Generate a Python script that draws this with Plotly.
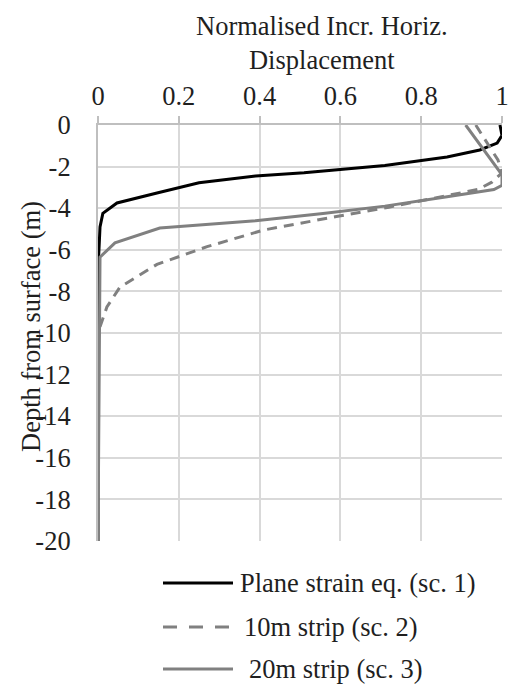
import plotly.graph_objects as go

# ---- data ----
names = ["Plane strain eq. (sc. 1)", "10m strip (sc. 2)", "20m strip (sc. 3)"]

depth_ps = [0, -0.5, -0.87, -1.2, -1.54, -1.78, -1.95, -2.1, -2.3, -2.45, -2.78, -3.27, -3.75, -4.25, -4.9, -6.15, -6.5, -20]
disp_ps = [0.995, 1.0, 0.988, 0.945, 0.864, 0.78, 0.71, 0.62, 0.51, 0.39, 0.25, 0.146, 0.047, 0.012, 0.005, 0.002, 0, 0]

depth_10 = [0, -1.68, -2.3, -2.75, -3.1, -3.4, -3.95, -4.4, -5.05, -5.85, -6.7, -7.8, -8.75, -9.7, -10.4, -20]
disp_10 = [0.935, 0.99, 1.0, 0.975, 0.94, 0.865, 0.72, 0.59, 0.41, 0.27, 0.146, 0.054, 0.022, 0.005, 0, 0]

depth_20 = [0, -2.4, -2.9, -3.1, -3.46, -3.9, -4.25, -4.6, -4.95, -5.67, -6.35, -20]
disp_20 = [0.91, 1.0, 1.0, 0.98, 0.86, 0.71, 0.557, 0.39, 0.153, 0.042, 0.005, 0]

x_ticks = [0, 0.2, 0.4, 0.6, 0.8, 1]
x_ticktext = ["0", "0.2", "0.4", "0.6", "0.8", "1"]
y_ticks = list(range(0, -21, -2))
y_ticktext = ["0", "-2", "-4", "-6", "-8", "-10", "-12", "-14", "-16", "-18", "-20"]

FONT = "Liberation Serif"
FS = 26.5
TXT = "#1f1f1f"
GRAY = "#808080"

colors = ["#000000", GRAY, GRAY]
dashes = ["solid", "10px,7px", "solid"]

fig = go.Figure()
series = [(disp_ps, depth_ps), (disp_10, depth_10), (disp_20, depth_20)]
for (xs, ys), nm, c, d in zip(series, names, colors, dashes):
    fig.add_trace(go.Scatter(x=xs, y=ys, mode="lines", name=nm,
                             line=dict(color=c, width=3, dash=d),
                             showlegend=False, cliponaxis=False))

W, H = 508, 684
L, R, T, B = 98, 6, 125, 143
pw, ph = W - L - R, H - T - B

def px2x(px):
    return (px - L) / pw

def py2y(py):
    return (H - B - py) / ph

fig.update_layout(
    width=W, height=H,
    margin=dict(l=L, r=R, t=T, b=B, autoexpand=False),
    paper_bgcolor="white", plot_bgcolor="white",
    font=dict(family=FONT, size=FS, color=TXT),
    xaxis=dict(side="top", range=[0, 1], tickvals=x_ticks, ticktext=x_ticktext,
               showgrid=True, gridcolor="#d9d9d9", gridwidth=2,
               showline=True, linecolor="#bfbfbf", linewidth=2,
               ticks="outside", ticklen=7, tickcolor="#bfbfbf", tickwidth=2,
               zeroline=False, automargin=False, ticklabeloverflow="allow",
               tickfont=dict(size=FS, family=FONT, color=TXT)),
    yaxis=dict(range=[-20, 0], tickvals=y_ticks, ticktext=y_ticktext,
               showgrid=True, gridcolor="#d9d9d9", gridwidth=2,
               showline=True, linecolor="#bfbfbf", linewidth=2,
               ticks="", ticklabelstandoff=20, automargin=False,
               zeroline=False, tickfont=dict(size=FS, family=FONT, color=TXT)),
)

# axis titles
fig.add_annotation(text="Normalised Incr. Horiz.<br>Displacement", xref="paper", yref="paper",
                   x=px2x(322), y=py2y(43), showarrow=False, xanchor="center", yanchor="middle",
                   font=dict(size=FS, family=FONT, color=TXT))
fig.add_annotation(text="Depth from surface (m)", xref="paper", yref="paper",
                   x=px2x(31), y=py2y(327), showarrow=False, textangle=-90,
                   xanchor="center", yanchor="middle",
                   font=dict(size=FS, family=FONT, color=TXT))

# manual legend
leg_y = [583, 627, 669]
leg_tx = [238, 242, 247]
for nm, c, d, ly, tx in zip(names, colors, dashes, leg_y, leg_tx):
    fig.add_shape(type="line", xref="paper", yref="paper",
                  x0=px2x(163), x1=px2x(233), y0=py2y(ly), y1=py2y(ly),
                  line=dict(color=c, width=3, dash="14px,12px" if d != "solid" else "solid"))
    fig.add_annotation(text=nm, xref="paper", yref="paper", x=px2x(tx), y=py2y(ly),
                       showarrow=False, xanchor="left", yanchor="middle",
                       font=dict(size=FS, family=FONT, color=TXT))

fig.write_html("out.html", config={"displayModeBar": False},
               post_script="document.body.style.margin='0';document.body.style.padding='0';document.body.style.overflow='hidden';")
